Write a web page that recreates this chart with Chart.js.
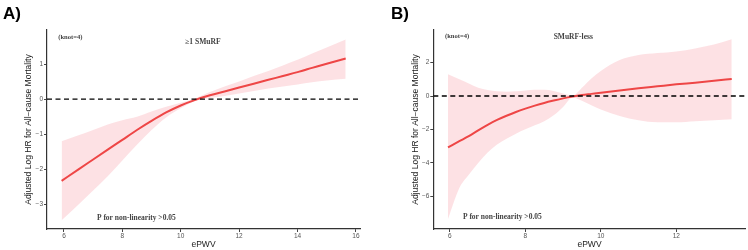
<!DOCTYPE html>
<html>
<head>
<meta charset="utf-8">
<script src="https://cdn.jsdelivr.net/npm/chart.js@4.4.1/dist/chart.umd.min.js"></script>
<style>
  html, body { margin: 0; padding: 0; background: #fff; }
  #wrap { position: relative; width: 748px; height: 250px; }
  canvas { position: absolute; top: 0; }
</style>
</head>
<body>
<div id="wrap">
  <canvas id="panelA" width="374" height="250" style="left:0"></canvas>
  <canvas id="panelB" width="374" height="250" style="left:374px"></canvas>
</div>
<script>
/* -------------------------------------------------------
   Data (RCS, knot=4)
------------------------------------------------------- */
// A) >=1 SMuRF
const ePWV_A  = [5.92, 6.5, 7.0, 7.5, 8.0, 8.5, 9.0, 9.5, 10.0, 10.5, 11.0, 11.5, 12.0, 12.5, 13.0, 13.5, 14.0, 14.5, 15.0, 15.65];
const logHR_A = [-2.33, -2.0, -1.72, -1.44, -1.16, -0.88, -0.62, -0.38, -0.18, -0.02, 0.11, 0.22, 0.33, 0.44, 0.55, 0.66, 0.77, 0.89, 1.01, 1.16];
const lowerA  = [-3.45, -3.0, -2.6, -2.2, -1.75, -1.3, -0.88, -0.52, -0.26, -0.05, 0.03, 0.09, 0.16, 0.23, 0.3, 0.36, 0.42, 0.48, 0.53, 0.58];
const upperA  = [-1.2, -1.03, -0.88, -0.72, -0.6, -0.5, -0.35, -0.22, -0.1, 0.02, 0.2, 0.36, 0.5, 0.66, 0.8, 0.96, 1.12, 1.3, 1.47, 1.7];

// B) SMuRF-less
const ePWV_B  = [5.95, 6.25, 6.5, 6.75, 7.0, 7.25, 7.5, 7.75, 8.0, 8.25, 8.5, 8.75, 9.0, 9.25, 9.5, 9.75, 10.0, 10.5, 11.0, 11.5, 12.0, 12.5, 13.0, 13.47];
const logHR_B = [-3.07, -2.7, -2.4, -2.05, -1.72, -1.43, -1.18, -0.95, -0.75, -0.57, -0.41, -0.27, -0.14, -0.03, 0.06, 0.13, 0.2, 0.33, 0.46, 0.58, 0.7, 0.8, 0.91, 1.02];
const lowerB  = [-7.35, -5.5, -4.7, -4.0, -3.38, -2.9, -2.55, -2.25, -1.99, -1.75, -1.5, -1.15, -0.65, -0.08, -0.28, -0.55, -0.8, -1.2, -1.45, -1.57, -1.57, -1.5, -1.44, -1.39];
const upperB  = [1.3, 1.0, 0.75, 0.5, 0.36, 0.28, 0.25, 0.28, 0.33, 0.37, 0.37, 0.3, 0.15, 0.03, 0.5, 1.05, 1.5, 2.15, 2.45, 2.57, 2.67, 2.85, 3.08, 3.39];

// axis ticks
const xTicksA = [6, 8, 10, 12, 14, 16];
const yTicksA = [-3, -2, -1, 0, 1];
const xTicksB = [6, 8, 10, 12];
const yTicksB = [-6, -4, -2, 0, 2];

const yTitle = "Adjusted Log HR for All\u2212cause Mortality";
const xTitle = "ePWV";

/* -------------------------------------------------------
   Helpers
------------------------------------------------------- */
const pts = (xs, ys) => xs.map((x, i) => ({ x, y: ys[i] }));

// text annotations drawn in data space (like ggplot annotate)
const annotationPlugin = {
    id: "annot",
    afterDraw(chart, args, opts) {
        const { ctx, scales: { x, y } } = chart;
        ctx.save();
        ctx.textAlign = "center";
        ctx.textBaseline = "middle";
        ctx.fillStyle = "#444";
        for (const a of opts.items || []) {
            ctx.font = `bold ${a.size}px "Liberation Serif", "Times New Roman", serif`;
            ctx.fillText(a.text, x.getPixelForValue(a.x), y.getPixelForValue(a.y));
        }
        // panel tag
        ctx.textAlign = "left";
        ctx.textBaseline = "alphabetic";
        ctx.fillStyle = "#000";
        ctx.font = 'bold 17px "Liberation Sans", Arial, sans-serif';
        ctx.fillText(opts.tag, opts.tagX, 19);
        ctx.restore();
    }
};

function makePanel(canvasId, p) {
    const ctx = document.getElementById(canvasId);
    const axisFont = { family: '"Liberation Sans", Arial, sans-serif', size: 8.5 };
    const tickFont = { family: '"Liberation Sans", Arial, sans-serif', size: 6.5 };

    return new Chart(ctx, {
        type: "line",
        data: {
            datasets: [
                {
                    label: "ref",
                    data: pts([p.xMin, p.xMax], [0, 0]),
                    borderColor: "#000",
                    borderWidth: 1.4,
                    borderDash: [5, 3.5],
                    pointRadius: 0,
                    fill: false,
                    order: 0
                },
                {
                    label: "logHR",
                    data: pts(p.xs, p.ys),
                    borderColor: "#ee4646",
                    borderWidth: 2,
                    pointRadius: 0,
                    cubicInterpolationMode: "monotone",
                    fill: false,
                    order: 1
                },
                {
                    label: "lower",
                    data: pts(p.xs, p.lo),
                    borderWidth: 0,
                    borderColor: "rgba(0,0,0,0)",
                    pointRadius: 0,
                    cubicInterpolationMode: "monotone",
                    fill: false,
                    order: 3
                },
                {
                    label: "upper",
                    data: pts(p.xs, p.hi),
                    borderWidth: 0,
                    borderColor: "rgba(0,0,0,0)",
                    backgroundColor: "rgba(252,200,206,0.55)",
                    pointRadius: 0,
                    cubicInterpolationMode: "monotone",
                    fill: "-1",
                    order: 2
                }
            ]
        },
        options: {
            responsive: false,
            animation: false,
            events: [],
            layout: { padding: { left: p.padLeft, right: p.padRight, top: 30, bottom: 0 } },
            plugins: {
                legend: { display: false },
                tooltip: { enabled: false },
                annot: { items: p.notes, tag: p.tag, tagX: p.tagX }
            },
            scales: {
                x: {
                    type: "linear",
                    min: p.xMin,
                    max: p.xMax,
                    afterBuildTicks: s => { s.ticks = p.xTicks.map(v => ({ value: v })); },
                    afterFit: s => { s.height = 21; },
                    border: { display: true, color: "#333", width: 1.2 },
                    grid: { display: true, drawOnChartArea: false, drawTicks: true, tickLength: 3, color: "#444" },
                    ticks: { font: tickFont, color: "#555", padding: 0, maxRotation: 0 },
                    title: { display: true, text: xTitle, font: axisFont, color: "#1a1a1a", padding: { top: 0, bottom: 0 } }
                },
                y: {
                    type: "linear",
                    min: p.yMin,
                    max: p.yMax,
                    afterBuildTicks: s => { s.ticks = p.yTicks.map(v => ({ value: v })); },
                    afterFit: s => { s.width = p.yWidth; },
                    border: { display: true, color: "#333", width: 1.2 },
                    grid: { display: true, drawOnChartArea: false, drawTicks: true, tickLength: 3, color: "#444" },
                    ticks: {
                        font: tickFont, color: "#555", padding: 1,
                        callback: v => String(v).replace("-", "\u2212")
                    },
                    title: { display: true, text: yTitle, font: axisFont, color: "#1a1a1a", padding: { top: 1, bottom: 0 } }
                }
            }
        },
        plugins: [annotationPlugin]
    });
}

/* -------------------------------------------------------
   Render both panels
------------------------------------------------------- */
makePanel("panelA", {
    xs: ePWV_A, ys: logHR_A, lo: lowerA, hi: upperA,
    xMin: 5.42, xMax: 16.14, yMin: -3.7, yMax: 1.97,
    xTicks: xTicksA, yTicks: yTicksA,
    padLeft: 23, padRight: 14, yWidth: 24,
    tag: "A)", tagX: 3,
    notes: [
        { text: "(knot=4)", x: 6.22, y: 1.77, size: 6.6 },
        { text: "\u22651 SMuRF", x: 10.76, y: 1.63, size: 7.6 },
        { text: "P for non-linearity >0.05", x: 8.48, y: -3.39, size: 7.5 }
    ]
});

makePanel("panelB", {
    xs: ePWV_B, ys: logHR_B, lo: lowerB, hi: upperB,
    xMin: 5.56, xMax: 13.84, yMin: -7.95, yMax: 3.95,
    xTicks: xTicksB, yTicks: yTicksB,
    padLeft: 35.6, padRight: 2.3, yWidth: 23.7,
    tag: "B)", tagX: 17,
    notes: [
        { text: "(knot=4)", x: 6.19, y: 3.56, size: 6.6 },
        { text: "SMuRF-less", x: 9.27, y: 3.5, size: 7.5 },
        { text: "P for non-linearity >0.05", x: 7.39, y: -7.26, size: 7.5 }
    ]
});
</script>
</body>
</html>
